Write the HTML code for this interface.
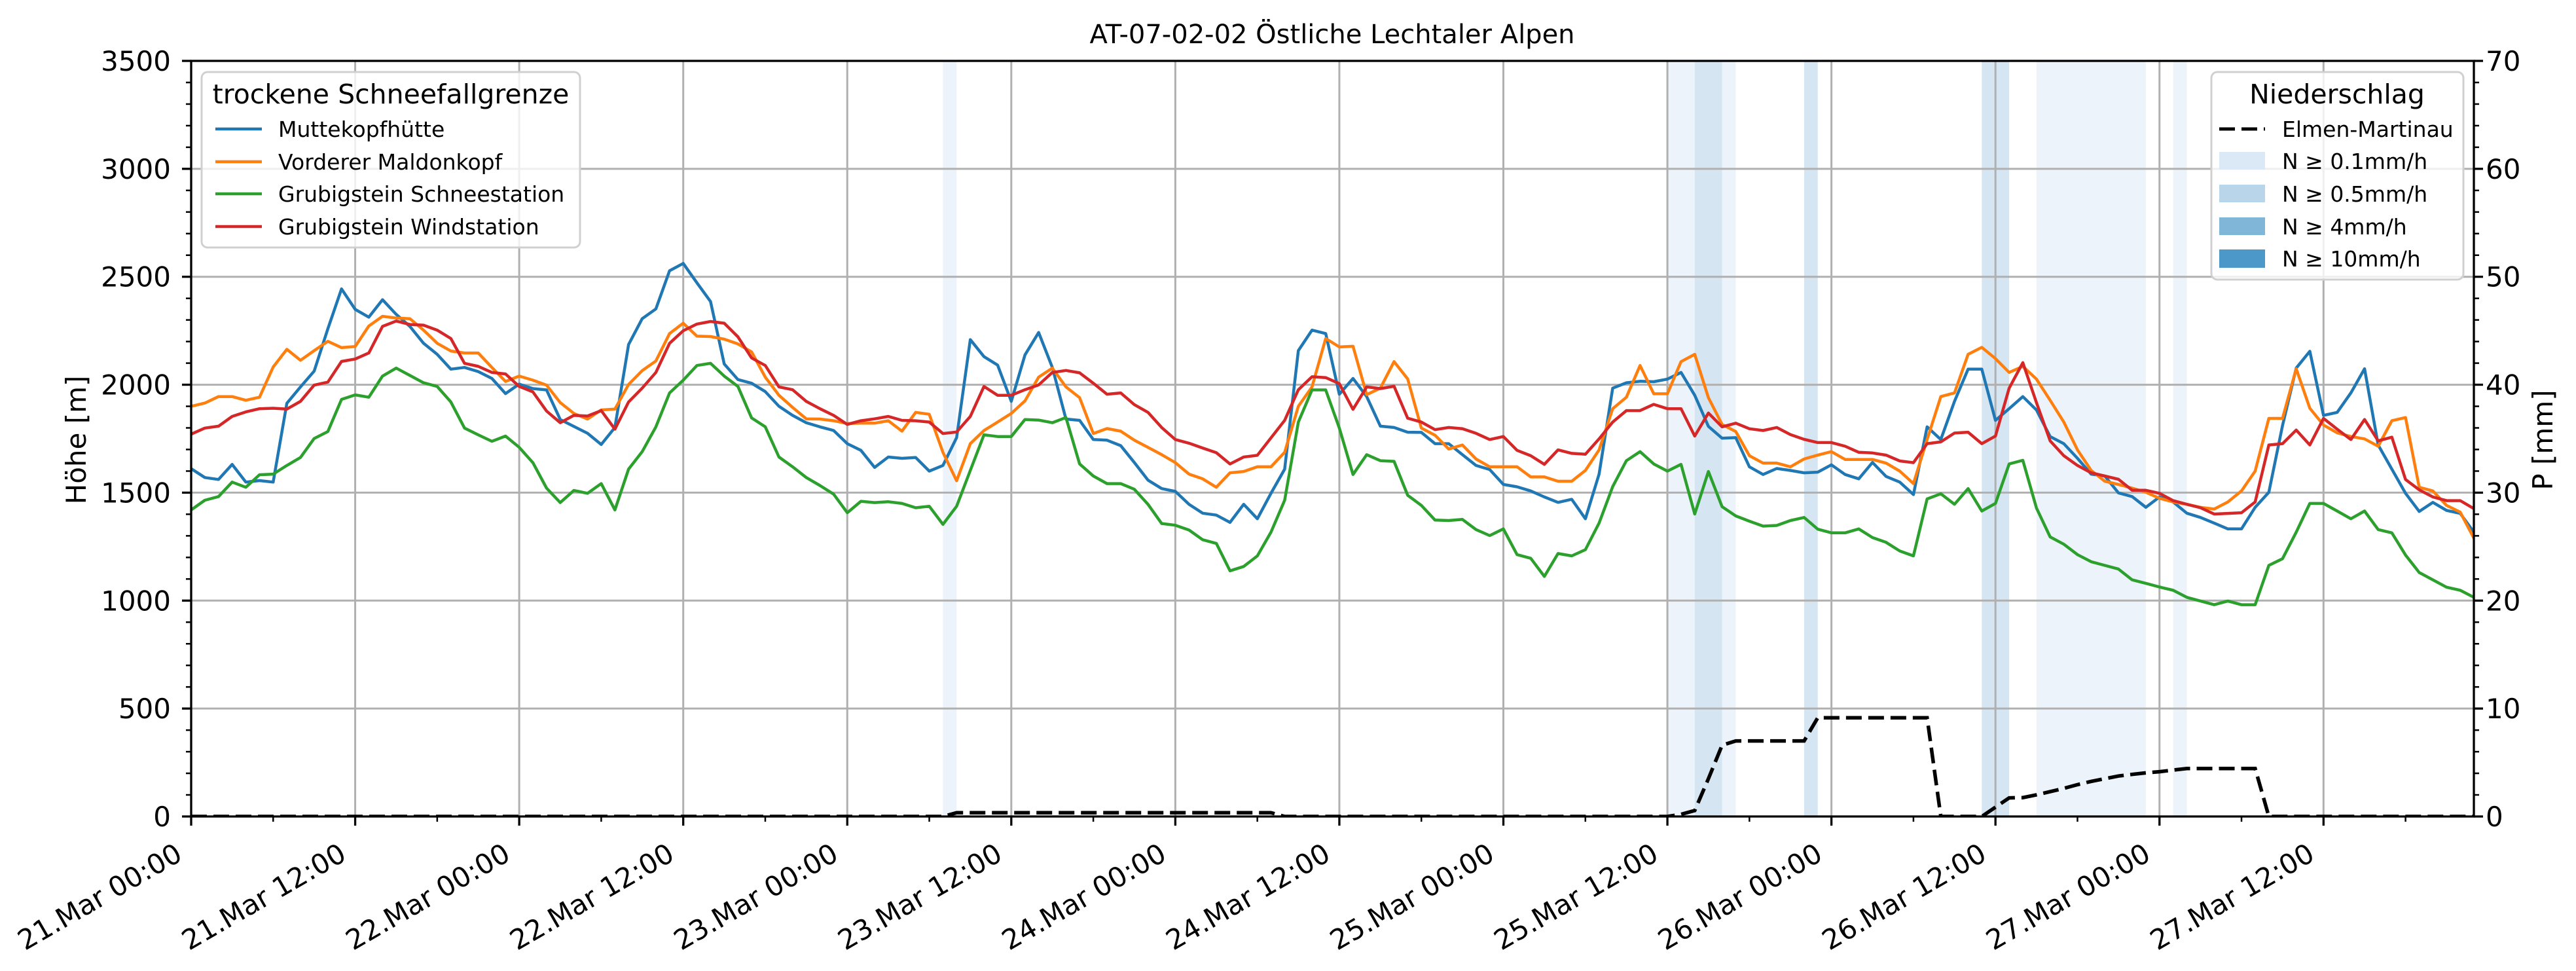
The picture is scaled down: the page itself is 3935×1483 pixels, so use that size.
<!DOCTYPE html>
<html><head><meta charset="utf-8"><style>
html,body{margin:0;padding:0;background:#fff;}
svg{display:block;font-family:"DejaVu Sans","Liberation Sans",sans-serif;}
</style></head><body>
<svg id="chart" width="3935" height="1483" viewBox="0 0 3935 1483" xmlns="http://www.w3.org/2000/svg">
<defs><clipPath id="plotclip"><rect x="292" y="93" width="3487" height="1154"/></clipPath></defs>
<rect x="0" y="0" width="3935" height="1483" fill="#fff"/>
<g id="bands" clip-path="url(#plotclip)"></g>
<g id="grid"></g>
<g id="series" clip-path="url(#plotclip)"></g>
<g id="axes"></g>
<text x="2035" y="66" text-anchor="middle" font-size="40">AT-07-02-02 Östliche Lechtaler Alpen</text>
<text transform="translate(131,672) rotate(-90)" text-anchor="middle" font-size="42">Höhe [m]</text>
<text transform="translate(3899,672) rotate(-90)" text-anchor="middle" font-size="42">P [mm]</text>
<g id="legend-left">
<rect x="308" y="110" width="578" height="268" rx="9" fill="#fff" fill-opacity="0.8" stroke="#d0d0d0" stroke-width="3"/>
<text x="597" y="158" text-anchor="middle" font-size="41">trockene Schneefallgrenze</text>
<g><line x1="329" y1="197" x2="400" y2="197" stroke="#1f77b4" stroke-width="4.5"/><text x="425" y="209" font-size="33">Muttekopfhütte</text></g>
<g><line x1="329" y1="247" x2="400" y2="247" stroke="#ff7f0e" stroke-width="4.5"/><text x="425" y="259" font-size="33">Vorderer Maldonkopf</text></g>
<g><line x1="329" y1="296" x2="400" y2="296" stroke="#2ca02c" stroke-width="4.5"/><text x="425" y="308" font-size="33">Grubigstein Schneestation</text></g>
<g><line x1="329" y1="346" x2="400" y2="346" stroke="#d62728" stroke-width="4.5"/><text x="425" y="358" font-size="33">Grubigstein Windstation</text></g>
</g>
<g id="legend-right">
<rect x="3378" y="110" width="385" height="317" rx="9" fill="#fff" fill-opacity="0.8" stroke="#d0d0d0" stroke-width="3"/>
<text x="3570" y="158" text-anchor="middle" font-size="41">Niederschlag</text>
<g><line x1="3390" y1="197" x2="3460" y2="197" stroke="#000" stroke-width="5" stroke-dasharray="24 10"/><text x="3486" y="209" font-size="33">Elmen-Martinau</text></g>
<g><rect x="3390" y="232" width="70" height="27" fill="#dbe9f6"/><text x="3486" y="258" font-size="33">N ≥ 0.1mm/h</text></g>
<g><rect x="3390" y="282" width="70" height="27" fill="#b9d5ea"/><text x="3486" y="308" font-size="33">N ≥ 0.5mm/h</text></g>
<g><rect x="3390" y="332" width="70" height="27" fill="#80b7d9"/><text x="3486" y="358" font-size="33">N ≥ 4mm/h</text></g>
<g><rect x="3390" y="381" width="70" height="28" fill="#4b98c9"/><text x="3486" y="407" font-size="33">N ≥ 10mm/h</text></g>
</g>
</svg>
<script>
const muttekopf = [
1611,1570,1561,1631,1549,1556,1549,1914,1990,2063,2259,2444,2349,2313,2394,2326,2270,2192,2141,2072,2080,2061,2029,1959,
2003,1982,1976,1839,1807,1775,1723,1802,2186,2306,2351,2528,2562,2472,2385,2096,2024,2007,1968,1900,1858,1824,1805,1788,
1727,1696,1617,1665,1659,1663,1600,1626,1755,2209,2130,2091,1923,2138,2242,2080,1841,1835,1746,1743,1718,1640,1558,1519,
1506,1446,1405,1396,1362,1446,1379,1497,1609,2158,2253,2237,1956,2029,1945,1808,1802,1780,1779,1727,1727,1676,1626,1607,
1538,1527,1508,1480,1455,1469,1379,1586,1984,2009,2016,2014,2026,2057,1951,1807,1752,1755,1620,1584,1612,1603,1592,1595,
1629,1584,1564,1640,1575,1549,1491,1805,1746,1923,2072,2072,1835,1889,1945,1883,1760,1727,1659,1586,1577,1499,1482,1432,
1480,1457,1405,1385,1359,1332,1332,1432,1502,1811,2077,2155,1858,1872,1962,2074,1721,1609,1497,1413,1455,1418,1404,1317];
const maldonkopf = [
1900,1915,1945,1945,1928,1942,2082,2164,2113,2158,2201,2172,2177,2272,2317,2309,2306,2253,2192,2156,2147,2147,2080,2015,
2040,2021,1998,1917,1867,1841,1883,1887,2001,2065,2110,2237,2285,2225,2223,2211,2189,2152,2035,1951,1895,1842,1841,1833,
1820,1822,1822,1833,1785,1872,1863,1687,1555,1727,1788,1827,1867,1925,2035,2077,1990,1940,1774,1797,1785,1743,1710,1676,
1639,1586,1564,1525,1592,1598,1620,1620,1687,1900,1990,2214,2175,2178,1954,1984,2107,2027,1799,1766,1702,1721,1656,1620,
1620,1620,1573,1573,1553,1553,1603,1698,1889,1942,2089,1958,1958,2107,2141,1940,1816,1783,1671,1637,1637,1620,1656,1674,
1690,1654,1654,1654,1637,1600,1542,1746,1945,1962,2141,2173,2121,2057,2085,2026,1928,1827,1698,1603,1553,1538,1521,1502,
1474,1457,1446,1432,1424,1457,1508,1600,1844,1844,2074,1891,1813,1777,1760,1749,1715,1833,1848,1525,1508,1441,1410,1289];
const schneestation = [
1420,1465,1482,1549,1525,1583,1586,1626,1663,1751,1783,1932,1953,1942,2040,2077,2043,2009,1992,1920,1799,1768,1738,1762,
1710,1639,1521,1454,1510,1497,1542,1420,1609,1690,1805,1962,2021,2089,2099,2040,1992,1846,1805,1665,1620,1570,1533,1493,
1407,1460,1454,1458,1450,1430,1437,1353,1437,1603,1768,1760,1760,1839,1836,1824,1848,1633,1577,1542,1542,1516,1446,1357,
1349,1327,1282,1265,1138,1158,1207,1317,1465,1827,1976,1976,1799,1584,1676,1648,1645,1488,1441,1373,1371,1376,1329,1301,
1332,1213,1196,1112,1218,1207,1236,1359,1528,1648,1690,1633,1600,1631,1401,1598,1435,1392,1368,1345,1348,1371,1385,1331,
1314,1314,1332,1292,1270,1230,1207,1471,1495,1446,1519,1415,1450,1633,1650,1429,1295,1261,1213,1180,1163,1146,1096,1080,
1063,1048,1015,998,981,998,981,981,1163,1194,1317,1450,1450,1415,1379,1415,1329,1314,1211,1130,1096,1062,1048,1015];
const windstation = [
1771,1799,1808,1853,1874,1889,1891,1887,1923,1998,2012,2108,2119,2147,2270,2295,2279,2276,2253,2214,2099,2085,2057,2050,
1992,1967,1878,1824,1858,1855,1880,1794,1920,1984,2057,2192,2250,2281,2293,2285,2222,2124,2089,1990,1977,1923,1889,1858,
1816,1833,1842,1853,1835,1833,1827,1774,1781,1853,1992,1951,1951,1977,1999,2057,2066,2055,2007,1956,1962,1908,1872,1802,
1746,1729,1707,1685,1633,1665,1673,1754,1835,1977,2037,2033,2005,1886,1990,1982,1993,1845,1827,1792,1802,1796,1775,1746,
1760,1696,1671,1631,1698,1682,1678,1749,1827,1880,1880,1909,1889,1889,1762,1869,1805,1822,1796,1788,1802,1769,1747,1732,
1732,1715,1687,1684,1674,1647,1639,1727,1735,1776,1780,1727,1762,1984,2102,1917,1740,1671,1626,1592,1577,1562,1511,1511,
1497,1463,1446,1430,1401,1404,1407,1457,1721,1727,1790,1721,1844,1794,1746,1839,1740,1757,1561,1513,1480,1463,1463,1426];
const precipElmen = [
0,0,0,0,0,0,0,0,0,0,0,0,0,0,0,0,0,0,0,0,0,0,0,0,
0,0,0,0,0,0,0,0,0,0,0,0,0,0,0,0,0,0,0,0,0,0,0,0,
0,0,0,0,0,0,0,0,0.35,0.35,0.35,0.35,0.35,0.35,0.35,0.35,0.35,0.35,0.35,0.35,0.35,0.35,0.35,0.35,
0.35,0.35,0.35,0.35,0.35,0.35,0.35,0.35,0,0,0,0,0,0,0,0,0,0,0,0,0,0,0,0,
0,0,0,0,0,0,0,0,0,0,0,0,0,0.2,0.55,3.5,6.6,7,7,7,7,7,7,9.14,
9.14,9.14,9.14,9.14,9.14,9.14,9.14,9.14,0,0,0,0,0.86,1.72,1.75,2.0,2.3,2.6,2.95,3.25,3.5,3.75,3.9,4.04,
4.15,4.3,4.44,4.44,4.44,4.44,4.44,4.44,0,0,0,0,0,0,0,0,0,0,0,0,0,0,0,0];
const bandStart = [55,108,135,145,110,118,131];
const bandEnd   = [56,113,143,146,112,119,133];
const bandLevel = [0.1,0.1,0.1,0.1,0.5,0.5,0.5];
const yTicksLeft = [0,500,1000,1500,2000,2500,3000,3500];
const yTicksRight = [0,10,20,30,40,50,60,70];
const xTickLabels = ["21.Mar 00:00","21.Mar 12:00","22.Mar 00:00","22.Mar 12:00","23.Mar 00:00","23.Mar 12:00","24.Mar 00:00","24.Mar 12:00","25.Mar 00:00","25.Mar 12:00","26.Mar 00:00","26.Mar 12:00","27.Mar 00:00","27.Mar 12:00"];

const NS="http://www.w3.org/2000/svg";
const L=292,R=3779,T=93,B=1247,HMAX=167;
function xs(h){return L+h*(R-L)/HMAX;}
function ys(v){return B-v*(B-T)/3500;}
function yp(p){return B-p*(B-T)/70;}
function mk(tag,attrs,parent){const e=document.createElementNS(NS,tag);for(const k in attrs)e.setAttribute(k,attrs[k]);parent.appendChild(e);return e;}

const bandsG=document.getElementById('bands');
const bandColor={0.1:'#edf3fa',0.5:'#d5e5f2',4:'#b6d3e9',10:'#84b8da'};
bandStart.forEach((s,i)=>{
  const r=mk('rect',{x:xs(s),y:T,width:xs(bandEnd[i])-xs(s),height:B-T,fill:bandColor[bandLevel[i]]},bandsG);
  
  
});

const gridG=document.getElementById('grid');
yTicksLeft.forEach(v=>{
  const l=mk('line',{x1:L,x2:R,y1:ys(v),y2:ys(v),stroke:'#b0b0b0','stroke-width':3},gridG);
  
  
});
xTickLabels.forEach((t,i)=>{
  const l=mk('line',{x1:xs(i*12),x2:xs(i*12),y1:T,y2:B,stroke:'#b0b0b0','stroke-width':3},gridG);
  
  
});

const seriesG=document.getElementById('series');
function drawLine(arr,color,name){
  const pts=arr.map((v,i)=>xs(i).toFixed(1)+','+ys(v).toFixed(1)).join(' ');
  const p=mk('polyline',{points:pts,fill:'none',stroke:color,'stroke-width':4.5,'stroke-linejoin':'round'},seriesG);
  
  
}
drawLine(muttekopf,'#1f77b4','line-muttekopfhuette');
drawLine(maldonkopf,'#ff7f0e','line-vorderer-maldonkopf');
drawLine(schneestation,'#2ca02c','line-grubigstein-schneestation');
drawLine(windstation,'#d62728','line-grubigstein-windstation');
const ppts=precipElmen.map((v,i)=>xs(i).toFixed(1)+','+yp(v).toFixed(1)).join(' ');
const pl=mk('polyline',{points:ppts,fill:'none',stroke:'#000','stroke-width':5.5,'stroke-dasharray':'24 10'},seriesG);



const ax=document.getElementById('axes');
mk('rect',{x:L,y:T,width:R-L,height:B-T,fill:'none',stroke:'#000','stroke-width':3.3},ax);
for(let v=0;v<=3500;v+=100){
  const major=v%500===0;
  mk('line',{x1:L,x2:L-(major?14:8),y1:ys(v),y2:ys(v),stroke:'#000','stroke-width':major?3.3:2.5},ax);
}
yTicksLeft.forEach(v=>{
  const t=mk('text',{x:261,y:ys(v)+15,'text-anchor':'end','font-size':42},ax);
  t.textContent=v;
  
  
});
for(let p=0;p<=70;p+=2){
  const major=p%10===0;
  mk('line',{x1:R,x2:R+(major?14:8),y1:yp(p),y2:yp(p),stroke:'#000','stroke-width':major?3.3:2.5},ax);
}
yTicksRight.forEach(p=>{
  const t=mk('text',{x:3797,y:yp(p)+15,'font-size':42},ax);
  t.textContent=p;
  
  
});
for(let h=0;h<=HMAX;h+=6){
  const major=h%12===0;
  mk('line',{x1:xs(h),x2:xs(h),y1:B,y2:B+(major?14:8),stroke:'#000','stroke-width':major?3.3:2.5},ax);
}
xTickLabels.forEach((lab,i)=>{
  const x=xs(i*12)-11,y=1312;
  const t=mk('text',{x:x,y:y,'text-anchor':'end','font-size':42,transform:'rotate(-30 '+x+' '+y+')'},ax);
  t.textContent=lab;
  
  
});
</script>
</body></html>
